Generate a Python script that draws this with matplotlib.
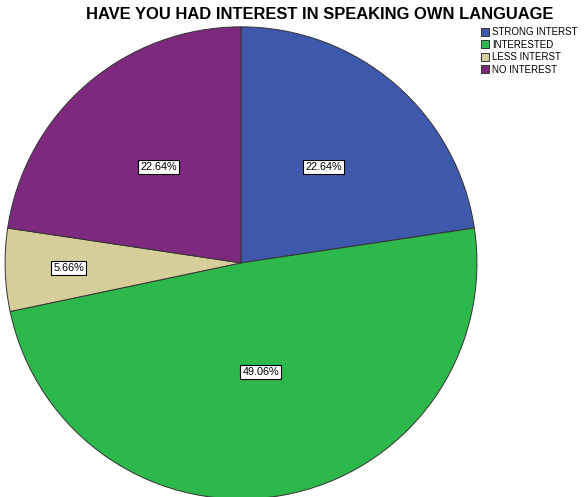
import matplotlib
matplotlib.use('Agg')
import matplotlib.pyplot as plt
import numpy as np

plt.rcParams['font.family'] = ['Liberation Sans', 'DejaVu Sans']

categories = ['STRONG INTERST', 'INTERESTED', 'LESS INTERST', 'NO INTEREST']
percents = [22.64, 49.06, 5.66, 22.64]
colors = ['#3e58ac', '#2db84c', '#d5ce9a', '#7d2a7e']
# how far out each percent label sits, as a fraction of the radius
label_r = [0.535, 0.47, 0.73, 0.535]

fig = plt.figure(figsize=(5.84, 4.97), dpi=100)
ax = fig.add_axes([0.0087, -0.004, 0.808, 0.950])
wedges, _ = ax.pie(percents, colors=colors, startangle=90, counterclock=False,
                   wedgeprops=dict(edgecolor='#333333', linewidth=0.7))
ax.set_xlim(-1, 1)
ax.set_ylim(-1, 1)
ax.set_aspect('auto')

for w, p, r in zip(wedges, percents, label_r):
    mid = np.deg2rad((w.theta1 + w.theta2) / 2)
    ax.text(r * np.cos(mid), r * np.sin(mid), f'{p:.2f}%', ha='center', va='center',
            fontsize=7.8, bbox=dict(boxstyle='square,pad=0.2', fc='white', ec='black', lw=0.8))

fig.text(0.548, 0.970, 'HAVE YOU HAD INTEREST IN SPEAKING OWN LANGUAGE',
         ha='center', va='center', fontsize=11.9, fontweight='bold')

handles = [plt.Rectangle((0, 0), 1, 1, fc=c, ec='#333333', lw=0.7) for c in colors]
fig.legend(handles, categories, loc='upper left', bbox_to_anchor=(0.823, 0.945),
           frameon=False, fontsize=7, handlelength=0.9, handleheight=0.9,
           handletextpad=0.3, labelspacing=0.25, borderpad=0, borderaxespad=0)

fig.savefig('out.png', dpi=100)
